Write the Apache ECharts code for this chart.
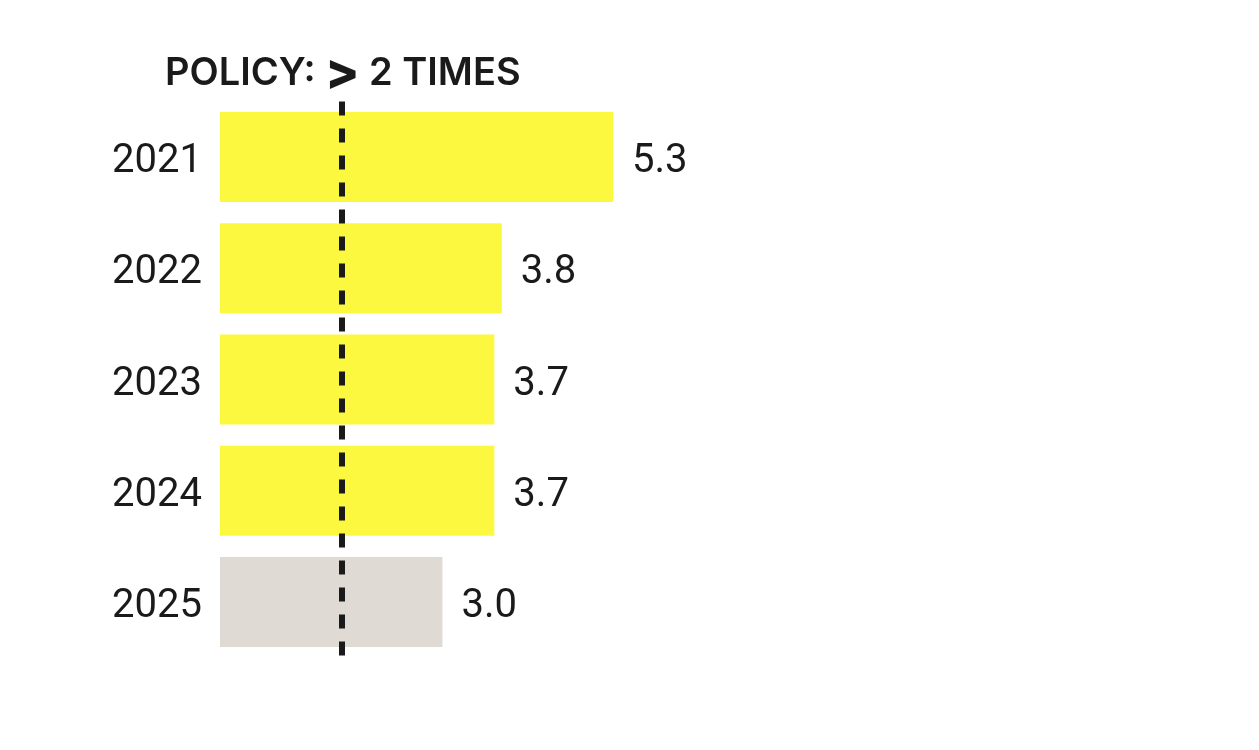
<!DOCTYPE html>
<html><head><meta charset="utf-8">
<script src="https://cdn.jsdelivr.net/npm/echarts@6/dist/echarts.min.js"></script>
<style>html,body{margin:0;padding:0;background:#fff}#c{width:1259px;height:750px}</style>
</head><body><div id="c"></div>
<script>
const years = ['2021', '2022', '2023', '2024', '2025'];
const values = [5.3, 3.8, 3.7, 3.7, 3.0];
const projectedYears = ['2025'];
const policyValue = 1.64;
const titleParts = ['POLICY:', '>', '2 TIMES'];

const YELLOW = '#fbf83f', GREY = '#dfdbd4', INK = '#1a1a1a';
const FONT = 'Roboto';
const TFONT = 'Inter';
const labelRich = { v: { fontFamily: FONT, fontSize: 40, color: INK, padding: [10, 0, 0, 0] } };

const chart = echarts.init(document.getElementById('c'));
chart.setOption({
  animation: false,
  backgroundColor: '#ffffff',
  title: {
    left: 160, top: 44,
    text: '{a|' + titleParts[0] + ' }{b|' + titleParts[1] + '}{a| ' + titleParts[2] + '}',
    textStyle: {
      rich: {
        a: { fontFamily: TFONT, fontWeight: 600, fontSize: 38, color: INK, verticalAlign: 'bottom', height: 50 },
        b: { fontFamily: TFONT, fontWeight: 800, fontSize: 50, color: INK, verticalAlign: 'bottom', height: 50 }
      }
    }
  },
  grid: { left: 220, top: 101.4, bottom: 92.4, right: 445.8, containLabel: false },
  xAxis: {
    type: 'value', min: 0, max: 8, show: false
  },
  yAxis: {
    type: 'category', data: years, inverse: true,
    axisLine: { show: false }, axisTick: { show: false },
    axisLabel: { margin: 18, formatter: v => '{v|' + v + '}', rich: labelRich }
  },
  series: [{
    type: 'bar',
    data: values,
    barCategoryGap: '19%',
    itemStyle: {
      color: p => projectedYears.includes(years[p.dataIndex]) ? GREY : YELLOW
    },
    label: {
      show: true, position: 'right', distance: 19,
      formatter: p => '{v|' + p.value.toFixed(1) + '}', rich: labelRich
    },
    markLine: {
      silent: true, symbol: 'none',
      label: { show: false },
      lineStyle: { color: INK, width: 6, type: [14, 13] },
      data: [{ xAxis: policyValue }]
    }
  }]
});
</script></body></html>
